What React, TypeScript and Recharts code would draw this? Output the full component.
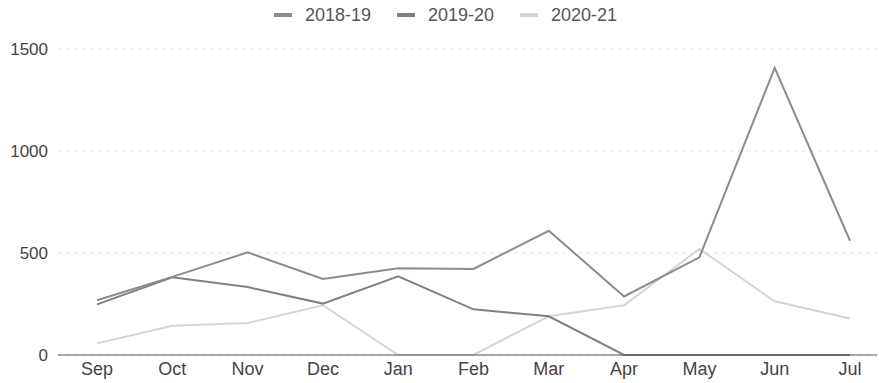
import React from 'react';
import { LineChart, Line, XAxis, YAxis, CartesianGrid, Legend } from 'recharts';

const months = ['Sep', 'Oct', 'Nov', 'Dec', 'Jan', 'Feb', 'Mar', 'Apr', 'May', 'Jun', 'Jul'];
const s2018 = [268, 383, 503, 373, 425, 422, 609, 287, 479, 1408, 560];
const s2019 = [248, 381, 333, 252, 386, 224, 190, 0, 0, 0, 0];
const s2020 = [57, 143, 157, 244, 0, 0, 190, 244, 520, 263, 179];
const seriesNames = ['2018-19', '2019-20', '2020-21'];
const seriesColors = ['#8c8c8c', '#808080', '#d4d4d4'];
const yTicks = [0, 500, 1000, 1500];

const data = months.map((m, i) => ({
  month: m,
  [seriesNames[0]]: s2018[i],
  [seriesNames[1]]: s2019[i],
  [seriesNames[2]]: s2020[i],
}));

const LegendContent = () => (
  <div style={{ height: 30, display: 'flex', justifyContent: 'center', alignItems: 'center', paddingLeft: 14, fontFamily: 'Liberation Sans, Arial, sans-serif', fontSize: 18, color: '#555' }}>
    {seriesNames.map((n, i) => (
      <div key={n} style={{ display: 'flex', alignItems: 'center', marginRight: i < 2 ? 26 : 0 }}>
        <div style={{ width: 18, height: 4, background: seriesColors[i], marginRight: 13 }} />
        <span>{n}</span>
      </div>
    ))}
  </div>
);

export default function App() {
  return (
    <div style={{ position: 'absolute', left: 0, top: 0, width: 879, height: 383, background: '#fff' }}>
      <LineChart width={879} height={383} data={data} margin={{ top: 19, right: 2, bottom: 0, left: 0 }}>
        <Legend verticalAlign="top" align="center" content={<LegendContent />} wrapperStyle={{ top: 0 }} />
        <CartesianGrid vertical={false} stroke="#e2e2e2" strokeDasharray="4 4" />
        <XAxis
          dataKey="month"
          padding={{ left: 39, right: 27 }}
          tickLine={false}
          tickSize={6}
          tickMargin={1}
          height={28}
          axisLine={{ stroke: '#555', strokeWidth: 1 }}
          tick={{ fill: '#444', fontSize: 18, fontFamily: 'Liberation Sans, Arial, sans-serif' }}
        />
        <YAxis
          domain={[0, 1500]}
          ticks={yTicks}
          width={58}
          axisLine={false}
          tickLine={false}
          tickSize={0}
          tickMargin={10}
          tick={{ fill: '#444', fontSize: 17, fontFamily: 'Liberation Sans, Arial, sans-serif' }}
        />
        <Line type="linear" dataKey={seriesNames[2]} stroke={seriesColors[2]} strokeWidth={2} dot={false} isAnimationActive={false} />
        <Line type="linear" dataKey={seriesNames[1]} stroke={seriesColors[1]} strokeWidth={2} dot={false} isAnimationActive={false} />
        <Line type="linear" dataKey={seriesNames[0]} stroke={seriesColors[0]} strokeWidth={2} dot={false} isAnimationActive={false} />
      </LineChart>
    </div>
  );
}
